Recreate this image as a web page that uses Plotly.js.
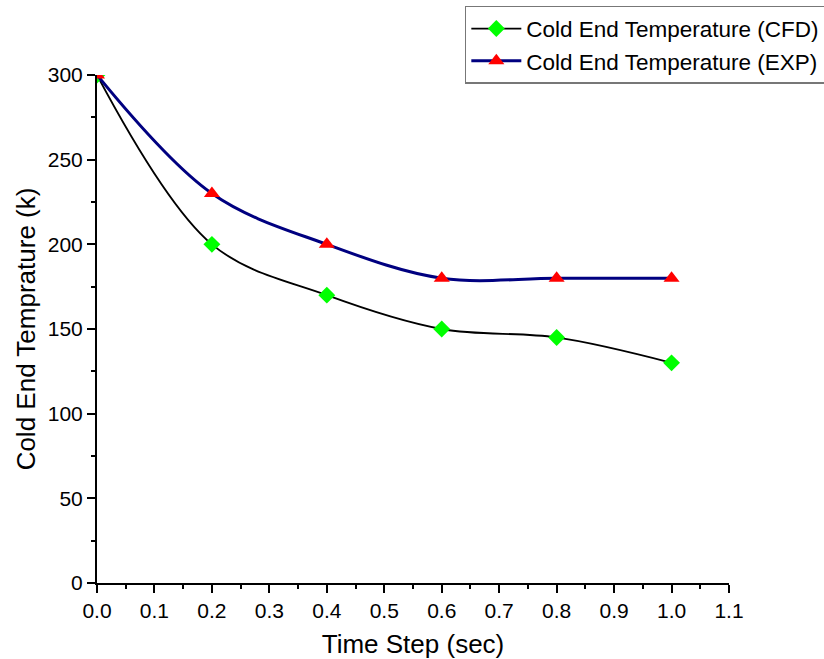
<!DOCTYPE html>
<html><head><meta charset="utf-8">
<script src="https://cdn.plot.ly/plotly-3.0.1.min.js"></script>
<style>html,body{margin:0;padding:0;background:#fff;}</style>
</head><body>
<div id="chart" style="width:824px;height:659px;"></div>
<script>
const timeStep = [0.0, 0.2, 0.4, 0.6, 0.8, 1.0];
const cfdTemp = [300, 200, 170, 150, 145, 130];
const expTemp = [300, 230, 200, 180, 180, 180];
const xTicks = [0.0, 0.1, 0.2, 0.3, 0.4, 0.5, 0.6, 0.7, 0.8, 0.9, 1.0, 1.1];
const yTicks = [0, 50, 100, 150, 200, 250, 300];

const font = "Arial, 'Liberation Sans', sans-serif";
const traces = [
  {x: timeStep, y: cfdTemp, name: 'Cold End Temperature (CFD)', mode: 'lines+markers',
   line: {color: '#000000', width: 1.8, shape: 'spline', smoothing: 1},
   marker: {symbol: 'diamond', color: '#00ff00', size: 13}},
  {x: timeStep, y: expTemp, name: 'Cold End Temperature (EXP)', mode: 'lines+markers',
   line: {color: '#000080', width: 3, shape: 'spline', smoothing: 1},
   marker: {symbol: 'triangle-up', color: '#ff0000', size: 14}}
];
const layout = {
  width: 824, height: 659,
  margin: {l: 97, r: 95, t: 75, b: 76, autoexpand: false},
  paper_bgcolor: '#fff', plot_bgcolor: '#fff',
  font: {family: font, color: '#000', size: 21},
  showlegend: true,
  legend: {x: 0.582, y: 1.136, xanchor: 'left', yanchor: 'top', bordercolor: '#777', borderwidth: 1.5,
           bgcolor: '#fff', font: {size: 22.5, family: font}, tracegroupgap: 0, itemwidth: 50},
  xaxis: {range: [0, 1.1], tickvals: xTicks, ticktext: xTicks.map(v => v.toFixed(1)), automargin: false,
          showgrid: false, zeroline: false, showline: true, linecolor: '#000', linewidth: 2,
          ticks: 'outside', ticklen: 8, tickwidth: 2, tickcolor: '#000',
          minor: {ticks: 'outside', ticklen: 4, tickwidth: 2, tickcolor: '#000', dtick: 0.05, tick0: 0.05, showgrid: false},
          tickfont: {size: 21},
          title: {text: 'Time Step (sec)', font: {size: 26}, standoff: 16}},
  yaxis: {range: [0, 300], tickvals: yTicks, automargin: false,
          showgrid: false, zeroline: false, showline: true, linecolor: '#000', linewidth: 2,
          ticks: 'outside', ticklen: 8, tickwidth: 2, tickcolor: '#000',
          minor: {ticks: 'outside', ticklen: 4, tickwidth: 2, tickcolor: '#000', dtick: 25, tick0: 25, showgrid: false},
          tickfont: {size: 21},
          title: {text: 'Cold End Temprature (k)', font: {size: 26}, standoff: 5}}
};
Plotly.newPlot('chart', traces, layout, {displayModeBar: false, staticPlot: true});
</script>
</body></html>
